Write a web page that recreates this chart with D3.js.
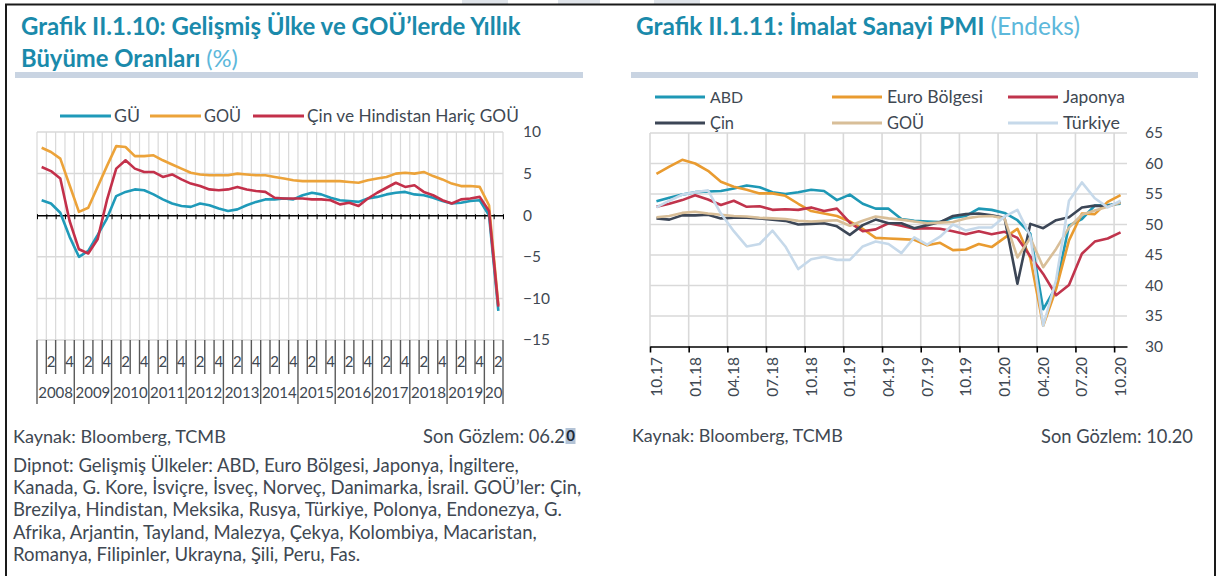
<!DOCTYPE html>
<html>
<head>
<meta charset="utf-8">
<script src="https://cdn.jsdelivr.net/npm/d3@7"></script>
<style>
    body { margin: 0; background: #fff; }
    svg text { font-family: Lato, "Open Sans", sans-serif; }
</style>
</head>
<body>
<svg id="page" width="1221" height="576"></svg>
<script>
/*
    Data - Grafik II.1.10, quarterly 2008Q1 - 2020Q2 (%)
*/
var growth_years = ["2008", "2009", "2010", "2011", "2012", "2013", "2014", "2015", "2016", "2017", "2018", "2019", "20"];
var growth_quarter_labels = ["", "2", "", "4"];
var growth_y_ticks = [10, 5, 0, -5, -10, -15];
// GÜ
var growth_gu = [1.8, 1.4, 0.3, -2.6, -5.0, -4.3, -2.4, -0.4, 2.3, 2.8, 3.1, 3.0, 2.5, 1.9, 1.4, 1.1, 1.0, 1.4, 1.2, 0.8,
    0.5, 0.7, 1.2, 1.6, 1.9, 1.9, 2.0, 1.9, 2.4, 2.7, 2.5, 2.1, 1.8, 1.7, 1.6, 2.0, 2.2, 2.5, 2.7, 2.8,
    2.5, 2.4, 2.1, 1.7, 1.4, 1.5, 1.7, 1.8, 0.0, -11.5];
// GOÜ
var growth_gou = [8.1, 7.6, 6.8, 3.6, 0.4, 0.9, 3.4, 5.9, 8.3, 8.2, 7.1, 7.1, 7.2, 6.6, 6.1, 5.6, 5.1, 4.9, 4.8, 4.8,
    4.8, 5.0, 4.9, 4.8, 4.8, 4.6, 4.4, 4.2, 4.1, 4.1, 4.1, 4.1, 4.1, 4.0, 3.9, 4.2, 4.4, 4.6, 5.0, 5.1,
    5.0, 5.2, 4.7, 4.3, 3.8, 3.5, 3.5, 3.4, 1.2, -10.8];
// Çin ve Hindistan Hariç GOÜ
var growth_gou_excl = [5.8, 5.3, 4.4, -0.7, -4.1, -4.6, -2.9, 1.8, 5.6, 6.6, 5.6, 5.2, 5.2, 4.6, 4.9, 4.3, 3.8, 3.5, 3.1, 3.0,
    3.1, 3.4, 3.1, 2.9, 2.8, 2.1, 2.0, 2.0, 2.0, 1.9, 1.9, 1.8, 1.3, 1.5, 1.1, 2.0, 2.7, 3.3, 3.9, 3.4,
    3.6, 2.8, 2.4, 1.8, 1.4, 1.9, 2.0, 2.2, 0.5, -11.0];

/*
    Data - Grafik II.1.11, monthly 10.17 - 10.20 (index)
*/
var pmi_months = ["10.17", "11.17", "12.17",
    "01.18", "02.18", "03.18", "04.18", "05.18", "06.18", "07.18", "08.18", "09.18", "10.18", "11.18", "12.18",
    "01.19", "02.19", "03.19", "04.19", "05.19", "06.19", "07.19", "08.19", "09.19", "10.19", "11.19", "12.19",
    "01.20", "02.20", "03.20", "04.20", "05.20", "06.20", "07.20", "08.20", "09.20", "10.20"];
var pmi_tick_every = 3;
var pmi_y_ticks = [30, 35, 40, 45, 50, 55, 60, 65];
var pmi_abd = [53.8, 54.4, 54.9, 55.3, 55.4, 55.5, 55.9, 56.4, 56.1, 55.3, 55.0, 55.3, 55.7, 55.5, 54.0, 54.9, 53.4, 52.6, 52.6,
    50.9, 50.6, 50.5, 50.4, 51.1, 51.4, 52.6, 52.4, 51.9, 50.7, 48.5, 36.1, 39.8, 49.8, 50.9, 53.1, 53.2, 53.4];
var pmi_euro = [58.3, 59.5, 60.6, 60.0, 58.8, 57.0, 56.2, 55.7, 55.1, 55.1, 54.7, 53.4, 52.2, 51.8, 51.4, 50.5, 49.3, 47.8, 47.7,
    47.6, 47.5, 46.6, 47.0, 45.8, 45.9, 46.8, 46.3, 47.8, 49.3, 44.5, 33.4, 39.4, 47.4, 51.8, 51.7, 53.7, 54.8];
var pmi_japonya = [52.9, 53.4, 54.0, 54.8, 54.1, 53.2, 53.9, 52.9, 53.0, 52.4, 52.5, 52.4, 52.8, 52.2, 52.6, 50.3, 48.9, 49.2, 50.2,
    49.8, 49.3, 49.4, 49.3, 48.9, 48.4, 48.9, 48.4, 48.8, 47.8, 44.8, 41.9, 38.4, 40.1, 45.2, 47.2, 47.7, 48.7];
var pmi_cin = [51.0, 50.8, 51.5, 51.5, 51.6, 51.0, 51.1, 51.1, 51.0, 50.8, 50.6, 50.0, 50.1, 50.2, 49.7, 48.3, 49.9, 50.8, 50.2,
    50.2, 49.4, 49.9, 50.4, 51.4, 51.7, 51.8, 51.5, 51.1, 40.3, 50.1, 49.4, 50.7, 51.2, 52.8, 53.1, 53.0, 53.6];
var pmi_gou = [51.2, 51.4, 51.9, 52.1, 51.8, 51.6, 51.4, 51.3, 51.1, 51.0, 50.9, 50.6, 50.5, 50.6, 50.7, 49.8, 50.6, 51.3, 51.0,
    50.8, 50.5, 50.2, 50.3, 50.4, 51.0, 51.3, 51.4, 51.0, 44.6, 47.8, 43.0, 46.0, 49.5, 51.6, 52.3, 52.9, 53.6];
var pmi_turkiye = [52.8, 53.9, 54.9, 55.3, 55.6, 51.8, 48.9, 46.4, 46.8, 49.0, 46.4, 42.7, 44.3, 44.7, 44.2, 44.2, 46.4, 47.2, 46.8,
    45.3, 47.9, 46.7, 48.0, 50.0, 49.0, 49.5, 49.5, 51.3, 52.4, 48.1, 33.4, 40.9, 53.9, 56.9, 54.3, 52.8, 53.9];

var TEXT = "#404852";
var GRID = "#d9d9d9";
var TITLE = "#1a8aab";
var TITLE_LIGHT = "#5db8db";

var svg = d3.select("#page");

// scale a text's font size so that it covers the given width, returns the size
function fit_width(sel, width) {
    var size = 0;
    sel.each(function() {
        var w = this.getComputedTextLength();
        var fs = parseFloat(d3.select(this).style("font-size"));
        size = fs * width / w;
        d3.select(this).style("font-size", size + "px");
    });
    return size;
}

function add_text(x, y, str, size, color, anchor) {
    return svg.append("text")
        .attr("x", x)
        .attr("y", y)
        .attr("dy", "0.36em")
        .attr("text-anchor", anchor || "start")
        .style("font-size", size + "px")
        .attr("fill", color)
        .text(str);
}

/*
    Frame and headers
*/
[[462, 46], [558, 42], [654, 46]].forEach(function(b) {
    svg.append("rect").attr("x", b[0]).attr("y", 0).attr("width", b[1]).attr("height", 4).attr("fill", "#dfe4ea");
});
svg.append("path")
    .attr("d", "M6,576V4.5H1215V576")
    .attr("fill", "none")
    .attr("stroke", "#1a1a1a")
    .attr("stroke-width", 2);

svg.append("rect").attr("x", 15).attr("y", 72).attr("width", 568).attr("height", 6).attr("fill", "#c9d4e2");
svg.append("rect").attr("x", 631).attr("y", 72).attr("width", 567).attr("height", 6).attr("fill", "#c9d4e2");

var t1 = add_text(21, 26, "Grafik II.1.10: Gelişmiş Ülke ve GOÜ’lerde Yıllık", 22, TITLE).attr("font-weight", "bold");
fit_width(t1, 500);
var t2 = add_text(21, 58, "", 22, TITLE);
t2.append("tspan").attr("font-weight", "bold").text("Büyüme Oranları ");
t2.append("tspan").attr("fill", TITLE_LIGHT).text("(%)");
fit_width(t2, 217);
var t3 = add_text(636, 26, "", 22, TITLE);
t3.append("tspan").attr("font-weight", "bold").text("Grafik II.1.11: İmalat Sanayi PMI ");
t3.append("tspan").attr("fill", TITLE_LIGHT).text("(Endeks)");
fit_width(t3, 444);

/*
    Grafik II.1.10
*/
function draw_growth() {
    var left = 37, right = 503, top = 132, bottom = 340;
    var n = growth_gu.length;
    var g = svg.append("g");

    var x = d3.scaleBand().domain(d3.range(n)).range([left, right]);
    var xb = d3.scaleLinear().domain([0, n]).range([left, right]);
    var y = d3.scaleLinear().domain([-15, 10]).range([bottom, top]);
    var mid = x.bandwidth() / 2;

    g.selectAll(".vgrid").data(d3.range(n + 1)).join("line")
        .attr("x1", xb).attr("x2", xb)
        .attr("y1", top).attr("y2", bottom)
        .attr("stroke", GRID).attr("stroke-width", 1.2);
    g.selectAll(".hgrid").data(growth_y_ticks.filter(function(v) { return v != 0; })).join("line")
        .attr("x1", left).attr("x2", right)
        .attr("y1", y).attr("y2", y)
        .attr("stroke", GRID).attr("stroke-width", 1.5);

    // zero line with quarter ticks
    var zero = g.append("g")
        .attr("transform", "translate(0," + y(0) + ")")
        .call(d3.axisBottom(xb).tickValues(d3.range(n + 1)).tickSize(4).tickSizeOuter(0).tickFormat(""));
    zero.select(".domain").attr("stroke", "#000").attr("stroke-width", 1.6);
    zero.selectAll(".tick line").attr("stroke", "#000").attr("stroke-width", 1).attr("y1", -1);

    // multi level category labels
    g.selectAll(".sep").data(d3.range(n + 1)).join("line")
        .attr("x1", xb).attr("x2", xb)
        .attr("y1", bottom)
        .attr("y2", function(b) { return (b % 4 == 0 || b == n) ? 404 : 374; })
        .attr("stroke", "#595959").attr("stroke-width", 1.4);
    g.selectAll(".qlab").data(d3.range(n).filter(function(i) { return growth_quarter_labels[i % 4] != ""; })).join("text")
        .attr("x", function(i) { return x(i) + mid; })
        .attr("y", 362).attr("dy", "0.36em")
        .attr("text-anchor", "middle")
        .style("font-size", "15px")
        .attr("fill", TEXT)
        .text(function(i) { return growth_quarter_labels[i % 4]; });
    g.selectAll(".ylab").data(growth_years).join("text")
        .attr("x", function(d, k) { return (xb(k * 4) + xb(Math.min(k * 4 + 4, n))) / 2; })
        .attr("y", 393).attr("dy", "0.36em")
        .attr("text-anchor", "middle")
        .style("font-size", "15px")
        .attr("fill", TEXT)
        .text(function(d) { return d; });

    var ax = g.append("g")
        .attr("transform", "translate(523,0)")
        .call(d3.axisRight(y).tickValues(growth_y_ticks).tickSize(0).tickPadding(0));
    ax.select(".domain").remove();
    ax.selectAll("text").style("font-size", "15.5px").attr("fill", TEXT).attr("font-family", null);

    var line = d3.line()
        .x(function(d, i) { return x(i) + mid; })
        .y(function(d) { return y(d); });
    var series = [
        { values: growth_gu, color: "#1f9ab9" },
        { values: growth_gou, color: "#eca33a" },
        { values: growth_gou_excl, color: "#c3304a" }
    ];
    g.selectAll(".series").data(series).join("path")
        .attr("d", function(d) { return line(d.values); })
        .attr("fill", "none")
        .attr("stroke", function(d) { return d.color; })
        .attr("stroke-width", 2.6)
        .attr("stroke-linejoin", "round");

    // legend
    var legend = [
        { name: "GÜ", color: "#1f9ab9", x: 60, width: 26 },
        { name: "GOÜ", color: "#eca33a", x: 150, width: 37 },
        { name: "Çin ve Hindistan Hariç GOÜ", color: "#c3304a", x: 253, width: 212 }
    ];
    legend.forEach(function(d) {
        g.append("line").attr("x1", d.x).attr("x2", d.x + 51).attr("y1", 116).attr("y2", 116)
            .attr("stroke", d.color).attr("stroke-width", 3);
        fit_width(add_text(d.x + 54, 116, d.name, 16, TEXT), d.width);
    });
}

/*
    Grafik II.1.11
*/
function draw_pmi() {
    var left = 650, right = 1127, top = 133, bottom = 346.5;
    var n = pmi_months.length;
    var g = svg.append("g");

    var x = d3.scaleBand().domain(pmi_months).range([left, right]);
    var xb = d3.scaleLinear().domain([0, n]).range([left, right]);
    var y = d3.scaleLinear().domain([30, 65]).range([bottom, top]);
    var mid = x.bandwidth() / 2;
    var ticks = d3.range(0, n, pmi_tick_every);

    g.selectAll(".vgrid").data(ticks).join("line")
        .attr("x1", xb).attr("x2", xb)
        .attr("y1", top).attr("y2", bottom)
        .attr("stroke", GRID).attr("stroke-width", 1.6);
    g.selectAll(".hgrid").data(pmi_y_ticks.slice(1)).join("line")
        .attr("x1", left).attr("x2", right)
        .attr("y1", y).attr("y2", y)
        .attr("stroke", GRID).attr("stroke-width", 1.6);

    var xa = g.append("g")
        .attr("transform", "translate(0," + bottom + ")")
        .call(d3.axisBottom(xb).tickValues(ticks).tickSize(6).tickSizeOuter(0).tickFormat(""));
    xa.select(".domain").attr("stroke", "#000").attr("stroke-width", 1.6);
    xa.selectAll(".tick line").attr("stroke", "#000").attr("stroke-width", 1.6);

    g.selectAll(".mlab").data(ticks).join("text")
        .attr("transform", function(i) { return "translate(" + (x(pmi_months[i]) + mid) + ",357)rotate(-90)"; })
        .attr("dy", "0.36em")
        .attr("text-anchor", "end")
        .style("font-size", "15.5px")
        .attr("fill", TEXT)
        .text(function(i) { return pmi_months[i]; });

    var ay = g.append("g")
        .attr("transform", "translate(1145,0)")
        .call(d3.axisRight(y).tickValues(pmi_y_ticks).tickSize(0).tickPadding(0));
    ay.select(".domain").remove();
    ay.selectAll("text").style("font-size", "15.5px").attr("fill", TEXT).attr("font-family", null);

    var line = d3.line()
        .x(function(d, i) { return x(pmi_months[i]) + mid; })
        .y(function(d) { return y(d); });
    var series = [
        { name: "ABD", values: pmi_abd, color: "#1e98b5", lx: 655, ly: 97, width: 33 },
        { name: "Euro Bölgesi", values: pmi_euro, color: "#e99b30", lx: 832, ly: 97, width: 96 },
        { name: "Japonya", values: pmi_japonya, color: "#c0344c", lx: 1008, ly: 97, width: 62 },
        { name: "Çin", values: pmi_cin, color: "#3c4656", lx: 655, ly: 123, width: 24 },
        { name: "GOÜ", values: pmi_gou, color: "#d8be98", lx: 832, ly: 123, width: 37 },
        { name: "Türkiye", values: pmi_turkiye, color: "#c6d9ea", lx: 1008, ly: 123, width: 57 }
    ];
    g.selectAll(".series").data(series).join("path")
        .attr("d", function(d) { return line(d.values); })
        .attr("fill", "none")
        .attr("stroke", function(d) { return d.color; })
        .attr("stroke-width", 2.6)
        .attr("stroke-linejoin", "round");

    series.forEach(function(d) {
        g.append("line").attr("x1", d.lx).attr("x2", d.lx + 50).attr("y1", d.ly).attr("y2", d.ly)
            .attr("stroke", d.color).attr("stroke-width", 3.2);
        fit_width(add_text(d.lx + 55, d.ly, d.name, 16, TEXT), d.width);
    });
}

draw_growth();
draw_pmi();

/*
    Footers
*/
fit_width(add_text(13, 436, "Kaynak: Bloomberg, TCMB", 15.5, TEXT), 213);
fit_width(add_text(565, 436, "Son Gözlem: 06.2", 15.5, TEXT, "end"), 142);
svg.append("rect").attr("x", 565.5).attr("y", 428).attr("width", 10).attr("height", 16).attr("fill", "#b3c3d6");
add_text(570.5, 436, "0", 15, "#1c2938", "middle").attr("font-weight", "bold");

fit_width(add_text(632, 436, "Kaynak: Bloomberg, TCMB", 15.5, TEXT), 211);
fit_width(add_text(1193, 436, "Son Gözlem: 10.20", 15.5, TEXT, "end"), 152);

var dipnot = [
    "Dipnot: Gelişmiş Ülkeler: ABD, Euro Bölgesi, Japonya, İngiltere,",
    "Kanada, G. Kore, İsviçre, İsveç, Norveç, Danimarka, İsrail. GOÜ’ler: Çin,",
    "Brezilya, Hindistan, Meksika, Rusya, Türkiye, Polonya, Endonezya, G.",
    "Afrika, Arjantin, Tayland, Malezya, Çekya, Kolombiya, Macaristan,",
    "Romanya, Filipinler, Ukrayna, Şili, Peru, Fas."
];
// one size for the whole note, taken from its first line
var note_size = 15.5;
dipnot.forEach(function(d, i) {
    var t = add_text(13, 465 + i * 22.3, d, note_size, TEXT);
    if (i == 0) note_size = fit_width(t, 506);
});
</script>
</body>
</html>
